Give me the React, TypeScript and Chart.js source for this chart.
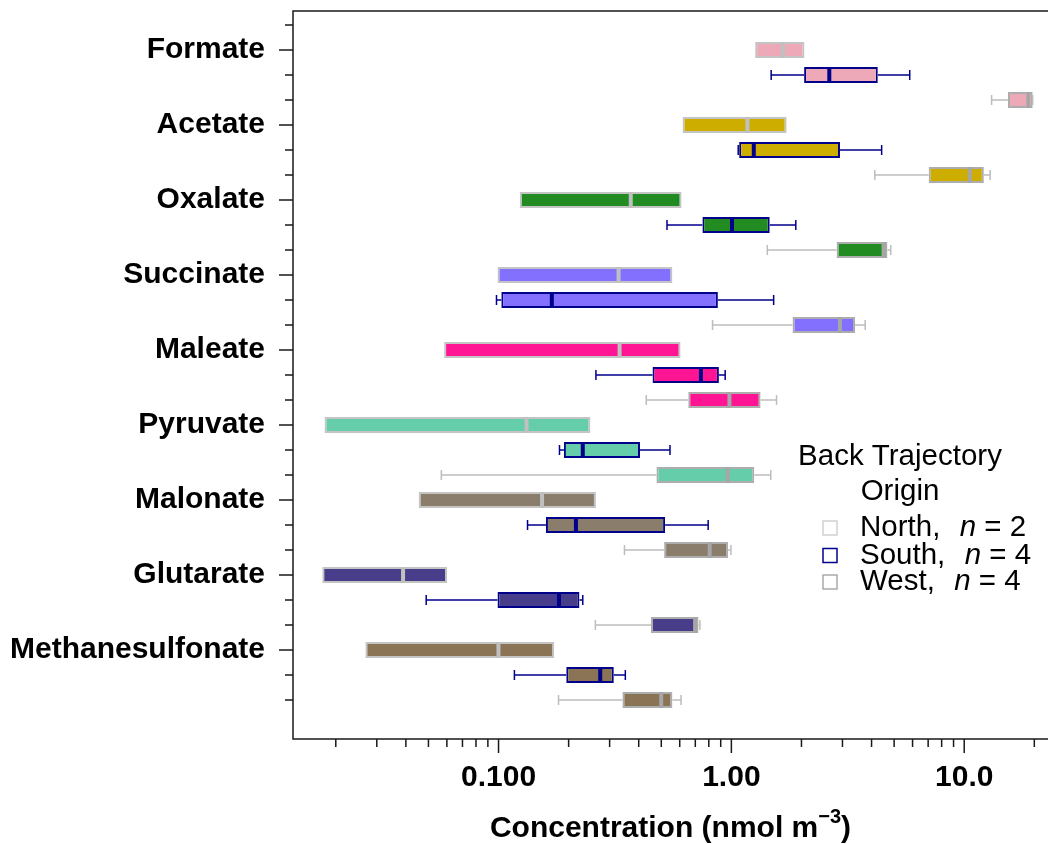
import React, { useEffect, useRef } from "react";
import { Chart, registerables } from "chart.js";

Chart.register(...registerables);

const FONT = '"Liberation Sans", Arial, Helvetica, sans-serif';

// ---------- data ----------
const compounds = [
  "Formate",
  "Acetate",
  "Oxalate",
  "Succinate",
  "Maleate",
  "Pyruvate",
  "Malonate",
  "Glutarate",
  "Methanesulfonate",
];
const compoundColors = [
  "#EEA9B8",
  "#CDAD00",
  "#228B22",
  "#8470FF",
  "#FF1493",
  "#66CDAA",
  "#8B7D6B",
  "#483D8B",
  "#8B7355",
];

const groupNames = ["North", "South", "West"];
const groupSizes = [2, 4, 4];

// North (n = 2): box spans the two samples, no whiskers
const northLow = [1.265, 0.617, 0.1234, 0.099, 0.0584, 0.0179, 0.0454, 0.0175, 0.0268];
const northMedian = [1.664, 1.172, 0.3697, 0.3277, 0.331, 0.1319, 0.1538, 0.0389, 0.0999];
const northHigh = [2.06, 1.727, 0.611, 0.558, 0.605, 0.248, 0.262, 0.0601, 0.1734];

const southMin = [1.482, 1.07, 0.529, 0.098, 0.262, 0.1827, 0.1332, 0.0489, 0.117];
const southQ1 = [2.053, 1.08, 0.751, 0.1028, 0.4585, 0.1909, 0.1598, 0.099, 0.1954];
const southMedian = [2.634, 1.248, 1.006, 0.1694, 0.74, 0.23, 0.215, 0.1818, 0.2733];
const southQ3 = [4.254, 2.927, 1.461, 0.875, 0.884, 0.405, 0.5193, 0.2225, 0.3126];
const southMax = [5.835, 4.42, 1.891, 1.519, 0.9406, 0.545, 0.795, 0.23, 0.3504];

const westMin = [13.11, 4.13, 1.427, 0.83, 0.431, 0.0568, 0.3474, 0.2606, 0.181];
const westQ1 = [15.42, 7.04, 2.831, 1.831, 0.653, 0.4766, 0.5143, 0.4515, 0.3404];
const westMedian = [18.86, 10.56, 4.506, 2.927, 0.981, 0.963, 0.807, 0.6986, 0.4995];
const westQ3 = [19.68, 12.14, 4.68, 3.396, 1.335, 1.254, 0.968, 0.7224, 0.558];
const westMax = [19.68, 12.92, 4.836, 3.756, 1.563, 1.476, 0.996, 0.7325, 0.608];

const xMajorTicks = [0.1, 1, 10];
const xMajorLabels = ["0.100", "1.00", "10.0"];
const xMinorTicks = [
  0.02, 0.03, 0.04, 0.05, 0.06, 0.07, 0.08, 0.09,
  0.2, 0.3, 0.4, 0.5, 0.6, 0.7, 0.8, 0.9,
  2, 3, 4, 5, 6, 7, 8, 9,
  20,
];
const xAxisTitle = "Concentration (nmol m";
const xAxisTitleSup = "\u22123";
const legendTitle = ["Back Trajectory", "Origin"];

// ---------- styles ----------
const groupBorderColors = ["#C4C4C4", "#00008B", "#ADADAD"];
const groupMedianColors = ["#C0C0C0", "#00008B", "#A6A6A6"];
const groupWhiskerColors = ["#C8C8C8", "#00008B", "#BDBDBD"];
const groupLegendColors = ["#D0D0D0", "#00008B", "#AAAAAA"];
const groupHasWhiskers = [false, true, true];

const stats = [
  { min: northLow, q1: northLow, median: northMedian, q3: northHigh, max: northHigh },
  { min: southMin, q1: southQ1, median: southMedian, q3: southQ3, max: southMax },
  { min: westMin, q1: westQ1, median: westMedian, q3: westQ3, max: westMax },
];

const rowOf = (i: number, g: number) => 1 + 3 * i + g;
const rowCount = compounds.length * 3 + 1;
const BOX_H = 16;
const LEGEND_FONT = 29.5;

const boxPlugin = {
  id: "boxExtras",
  afterDatasetsDraw(chart: any) {
    const { ctx, scales, chartArea } = chart;
    const x = scales.x;
    const y = scales.y;
    ctx.save();
    ctx.beginPath();
    ctx.rect(chartArea.left, chartArea.top, chartArea.right - chartArea.left, chartArea.bottom - chartArea.top);
    ctx.clip();
    stats.forEach((s, g) => {
      compounds.forEach((_, i) => {
        const py = y.getPixelForValue(rowOf(i, g));
        if (groupHasWhiskers[g]) {
          const pMin = x.getPixelForValue(s.min[i]);
          const pQ1 = x.getPixelForValue(s.q1[i]);
          const pQ3 = x.getPixelForValue(s.q3[i]);
          const pMax = x.getPixelForValue(s.max[i]);
          ctx.strokeStyle = groupWhiskerColors[g];
          ctx.lineWidth = 1.5;
          ctx.beginPath();
          ctx.moveTo(pMin, py);
          ctx.lineTo(pQ1, py);
          ctx.moveTo(pQ3, py);
          ctx.lineTo(pMax, py);
          ctx.moveTo(pMin, py - 5);
          ctx.lineTo(pMin, py + 5);
          ctx.moveTo(pMax, py - 5);
          ctx.lineTo(pMax, py + 5);
          ctx.stroke();
        }
        const pMed = x.getPixelForValue(s.median[i]);
        ctx.fillStyle = groupMedianColors[g];
        ctx.fillRect(pMed - 2, py - BOX_H / 2, 4, BOX_H);
      });
    });
    ctx.restore();
  },
  afterDraw(chart: any) {
    const { ctx, scales, chartArea } = chart;
    const x = scales.x;
    const y = scales.y;
    ctx.save();
    // frame
    ctx.strokeStyle = "#1a1a1a";
    ctx.lineWidth = 1.5;
    ctx.beginPath();
    ctx.moveTo(chartArea.right + 2, chartArea.top);
    ctx.lineTo(chartArea.left, chartArea.top);
    ctx.lineTo(chartArea.left, chartArea.bottom);
    ctx.lineTo(chartArea.right + 2, chartArea.bottom);
    ctx.stroke();
    // y ticks
    ctx.beginPath();
    for (let r = 0; r < rowCount; r++) {
      const py = y.getPixelForValue(r);
      const len = r >= 1 && (r - 1) % 3 === 0 ? 14 : 8;
      ctx.moveTo(chartArea.left - len, py);
      ctx.lineTo(chartArea.left, py);
    }
    // x ticks
    xMajorTicks.forEach((v) => {
      const px = x.getPixelForValue(v);
      ctx.moveTo(px, chartArea.bottom);
      ctx.lineTo(px, chartArea.bottom + 14);
    });
    xMinorTicks.forEach((v) => {
      const px = x.getPixelForValue(v);
      ctx.moveTo(px, chartArea.bottom);
      ctx.lineTo(px, chartArea.bottom + 8);
    });
    ctx.stroke();

    // axis title with superscript
    ctx.fillStyle = "#000";
    ctx.textBaseline = "alphabetic";
    ctx.textAlign = "left";
    const mainFont = `bold 30px ${FONT}`;
    const supFont = `bold 20px ${FONT}`;
    ctx.font = mainFont;
    const w1 = ctx.measureText(xAxisTitle).width;
    const wClose = ctx.measureText(")").width;
    ctx.font = supFont;
    const w2 = ctx.measureText(xAxisTitleSup).width;
    const total = w1 + w2 + wClose;
    const cx = (chartArea.left + chartArea.right) / 2;
    let tx = cx - total / 2;
    const baseY = 837;
    ctx.font = mainFont;
    ctx.fillText(xAxisTitle, tx, baseY);
    tx += w1;
    ctx.font = supFont;
    ctx.fillText(xAxisTitleSup, tx, baseY - 14);
    tx += w2;
    ctx.font = mainFont;
    ctx.fillText(")", tx, baseY);

    // legend
    ctx.textBaseline = "middle";
    ctx.textAlign = "center";
    ctx.font = `${LEGEND_FONT}px ${FONT}`;
    ctx.fillText(legendTitle[0], 900, 457);
    ctx.fillText(legendTitle[1], 900, 492);
    const rowsY = [528, 555.5, 582];
    groupNames.forEach((name, g) => {
      const cy = rowsY[g];
      ctx.fillStyle = "#fff";
      ctx.strokeStyle = groupLegendColors[g];
      ctx.lineWidth = 1.5;
      ctx.fillRect(823, cy - 7, 14, 14);
      ctx.strokeRect(823, cy - 7, 14, 14);
      ctx.fillStyle = "#000";
      ctx.textAlign = "left";
      let lx = 860;
      const a = `${name},  `;
      ctx.font = `${LEGEND_FONT}px ${FONT}`;
      ctx.fillText(a, lx, cy);
      lx += ctx.measureText(a).width + 3;
      ctx.font = `italic ${LEGEND_FONT}px ${FONT}`;
      ctx.fillText("n", lx, cy);
      lx += ctx.measureText("n").width;
      ctx.font = `${LEGEND_FONT}px ${FONT}`;
      ctx.fillText(` = ${groupSizes[g]}`, lx, cy);
    });
    ctx.restore();
  },
};

export default function App() {
  const canvasRef = useRef<HTMLCanvasElement | null>(null);

  useEffect(() => {
    const canvas = canvasRef.current;
    if (!canvas) return;
    const chart = new Chart(canvas, {
      type: "bar",
      data: {
        datasets: stats.map((s, g) => ({
          label: `${groupNames[g]}, n = ${groupSizes[g]}`,
          data: compounds.map((_, i) => ({ x: [s.q1[i], s.q3[i]], y: rowOf(i, g) })),
          backgroundColor: compoundColors,
          borderColor: groupBorderColors[g],
          borderWidth: 2,
          borderSkipped: false,
          barThickness: BOX_H,
          grouped: false,
          inflateAmount: 0,
        })) as any,
      },
      options: {
        animation: false,
        responsive: false,
        indexAxis: "y",
        layout: { padding: { top: 11, right: 0, bottom: 0, left: 0 } },
        plugins: {
          legend: { display: false },
          tooltip: { enabled: false },
          title: { display: false },
        },
        scales: {
          x: {
            type: "logarithmic",
            position: "bottom",
            min: 0.0131,
            max: 22.9,
            offset: false,
            grid: { display: false, drawTicks: false },
            border: { display: false },
            afterBuildTicks: (s: any) => {
              s.ticks = xMajorTicks.map((v) => ({ value: v, major: true }));
            },
            afterFit: (s: any) => {
              s.height = 105;
              s.paddingLeft = 0;
              s.paddingRight = 0;
            },
            ticks: {
              autoSkip: false,
              maxRotation: 0,
              minRotation: 0,
              padding: 21,
              color: "#000",
              font: { family: FONT, size: 30, weight: "bold" },
              callback: (v: any) => {
                const k = xMajorTicks.indexOf(Number(v));
                return k >= 0 ? xMajorLabels[k] : "";
              },
            },
          },
          y: {
            type: "linear",
            reverse: true,
            offset: false,
            min: -0.56,
            max: 28.56,
            grid: { display: false, drawTicks: false, offset: false },
            border: { display: false },
            afterBuildTicks: (s: any) => {
              const t: any[] = [];
              for (let r = 0; r < rowCount; r++) t.push({ value: r });
              s.ticks = t;
            },
            afterFit: (s: any) => {
              s.width = 293;
              s.paddingTop = 0;
              s.paddingBottom = 0;
            },
            ticks: {
              autoSkip: false,
              padding: 28,
              color: "#000",
              font: { family: FONT, size: 30, weight: "bold" },
              callback: (v: any) => {
                const r = Math.round(Number(v));
                if (r >= 1 && (r - 1) % 3 === 0) return compounds[(r - 1) / 3];
                return "";
              },
            },
          },
        },
      } as any,
      plugins: [boxPlugin],
    });
    return () => chart.destroy();
  }, []);

  return (
    <div
      style={{
        position: "fixed",
        left: 0,
        top: 0,
        width: 1048,
        height: 844,
        background: "#fff",
        overflow: "hidden",
      }}
    >
      <canvas ref={canvasRef} width={1048} height={844} style={{ width: 1048, height: 844 }} />
    </div>
  );
}
